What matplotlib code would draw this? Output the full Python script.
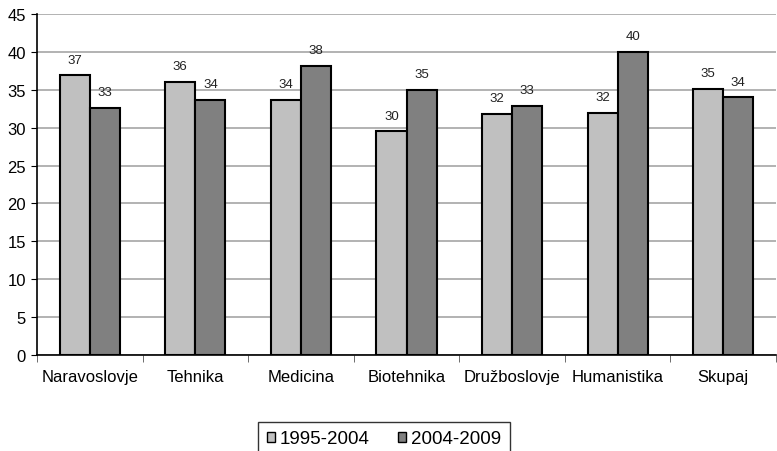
import matplotlib.pyplot as plt
import numpy as np

plt.rcParams['font.family'] = ['Liberation Sans', 'DejaVu Sans']

categories = ['Naravoslovje', 'Tehnika', 'Medicina', 'Biotehnika', 'Družboslovje', 'Humanistika', 'Skupaj']
series_names = ['1995-2004', '2004-2009']
vals_1995 = [36.9, 36.0, 33.7, 29.5, 31.8, 32.0, 35.1]
vals_2004 = [32.6, 33.7, 38.2, 35.0, 32.9, 40.0, 34.0]
labels_1995 = ['37', '36', '34', '30', '32', '32', '35']
labels_2004 = ['33', '34', '38', '35', '33', '40', '34']
colors = ['#c0c0c0', '#808080']

fig = plt.figure(figsize=(7.77, 4.52), dpi=100)
ax = fig.add_axes([37 / 777, 1 - 356 / 452, 739 / 777, 341 / 452])

x = np.arange(len(categories))
w = 0.285
b1 = ax.bar(x - w / 2, vals_1995, w, color=colors[0], edgecolor='black', linewidth=1.5,
            label=series_names[0], zorder=3)
b2 = ax.bar(x + w / 2, vals_2004, w, color=colors[1], edgecolor='black', linewidth=1.5,
            label=series_names[1], zorder=3)

# value labels above the bars
for bars, labs in ((b1, labels_1995), (b2, labels_2004)):
    for r, t in zip(bars, labs):
        ax.annotate(t, (r.get_x() + r.get_width() / 2, r.get_height()),
                    xytext=(0, 7), textcoords='offset points',
                    ha='center', va='bottom', fontsize=9.5, color='#222222')

ax.set_xlim(-0.5, len(categories) - 0.5)
ax.set_ylim(0, 45)
ax.set_yticks(np.arange(0, 46, 5))
ax.yaxis.grid(True, color='#a6a6a6', linewidth=1.2, zorder=0)
ax.set_axisbelow(True)

ax.set_xticks(x)
ax.set_xticklabels(categories, fontsize=12)
ax.set_xticks(np.arange(-0.5, len(categories), 1), minor=True)
ax.tick_params(axis='x', which='major', length=0, pad=10)
ax.tick_params(axis='x', which='minor', length=5, color='#555555')
ax.tick_params(axis='y', length=4, labelsize=12, pad=4)

for s in ('top', 'right'):
    ax.spines[s].set_visible(False)
ax.spines['left'].set_linewidth(1.2)
ax.spines['bottom'].set_linewidth(1.2)

leg = fig.legend(handles=[b1, b2], loc='upper center', bbox_to_anchor=(384 / 777, 1 - 423 / 452),
                 ncol=2, frameon=True, fancybox=False, edgecolor='black', fontsize=13.5,
                 handlelength=0.45, handleheight=0.45, handletextpad=0.25, columnspacing=1.5,
                 borderpad=0.45, borderaxespad=0.0)
leg.get_frame().set_linewidth(1.0)
for h in leg.legend_handles:
    h.set_linewidth(1.0)

fig.savefig('out.png', dpi=100)
